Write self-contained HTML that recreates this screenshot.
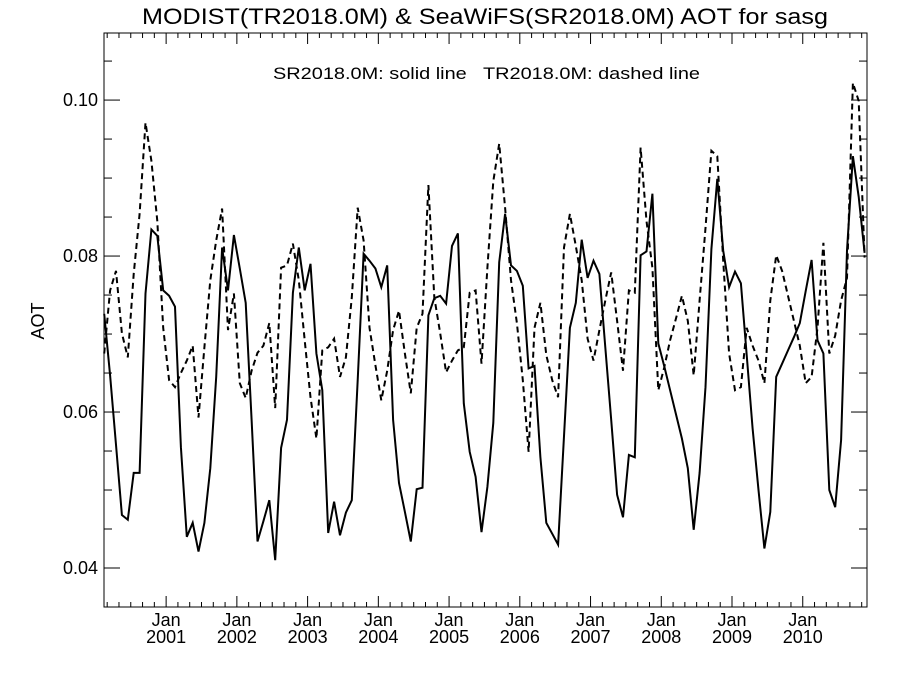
<!DOCTYPE html>
<html><head><meta charset="utf-8"><title>AOT chart</title>
<style>html,body{margin:0;padding:0;background:#fff}svg{display:block;font-family:"Liberation Sans",sans-serif}</style>
</head><body>
<svg id="chart" width="900" height="675" viewBox="0 0 900 675" xmlns="http://www.w3.org/2000/svg">
<rect x="0" y="0" width="900" height="675" fill="#fff"/>
<text x="485" y="24" font-size="22" text-anchor="middle" textLength="686" lengthAdjust="spacingAndGlyphs">MODIST(TR2018.0M) &amp; SeaWiFS(SR2018.0M)  AOT for sasg</text>
<text x="273" y="79" font-size="17" textLength="427" lengthAdjust="spacingAndGlyphs" xml:space="preserve">SR2018.0M: solid line   TR2018.0M: dashed line</text>
<text x="0" y="0" font-size="18" text-anchor="middle" transform="translate(44,321) rotate(-90)">AOT</text>
<g id="axes"></g>
<g id="series"></g>
</svg>
<script>
// month index 0 = Feb 2000 (mid-month), values in AOT
const solidValues = [72.6,64.7,55.8,46.8,46.2,52.2,52.2,75.2,83.4,82.6,75.6,74.9,73.5,55.5,44.0,45.8,42.1,45.8,52.8,64.5,81.1,75.6,82.7,78.4,74.0,59.0,43.4,46.0,48.7,41.0,55.4,59.0,75.3,81.1,75.6,79.0,67.5,62.8,44.5,48.5,44.2,47.1,48.7,64.1,80.3,79.4,78.4,76.0,78.8,59.0,50.9,47.2,43.4,50.1,50.3,72.4,74.6,74.9,73.9,81.3,82.9,61.1,54.9,51.7,44.6,50.4,58.6,79.2,85.4,78.8,78.1,76.2,65.6,65.9,54.2,45.8,44.4,43.0,56.9,70.8,74.0,82.1,77.2,79.4,77.7,68.3,59.0,49.4,46.5,54.5,54.2,80.1,80.6,88.0,68.8,65.9,62.8,59.7,56.6,52.8,44.9,52.2,63.2,80.9,89.9,80.7,76.0,78.0,76.5,67.3,57.9,50.0,42.5,47.2,64.5,66.2,67.9,69.6,71.4,75.5,79.5,69.2,67.5,50.0,47.8,56.4,80.7,92.8,87.6,80.4].map(v=>v/1000);
const dashedValues = [67.5,75.6,78.1,70.1,67.0,77.7,85.4,97.1,92.2,84.5,70.8,64.1,63.2,65.0,66.6,68.5,59.3,68.3,76.9,82.0,86.1,70.5,75.2,63.7,61.8,65.3,67.6,68.5,71.4,60.5,78.5,78.8,81.6,76.9,69.2,61.9,56.6,67.9,68.3,69.4,64.5,67.0,74.7,86.2,82.0,70.8,66.0,61.5,65.3,70.5,73.0,67.5,62.4,70.8,72.6,89.1,74.7,70.1,65.1,66.6,67.9,68.3,75.3,75.6,66.2,78.5,89.6,94.4,86.2,76.9,71.4,64.1,54.9,70.8,74.0,67.3,64.1,61.9,81.1,85.4,81.3,76.9,69.4,66.6,70.5,74.3,77.9,71.7,65.3,75.6,75.3,93.9,84.5,78.5,62.8,65.7,69.2,72.0,74.9,71.7,64.7,74.3,83.6,93.5,92.8,79.4,67.5,62.8,63.2,70.8,68.5,66.6,63.7,74.3,80.1,78.1,74.9,71.7,68.5,63.7,64.5,70.8,81.7,67.5,69.8,74.3,77.2,102.2,99.9,79.8].map(v=>v/1000);
const yTickValues = [0.04,0.06,0.08,0.10];
const yTickLabels = ["0.04","0.06","0.08","0.10"];
const xTickYears = ["2001","2002","2003","2004","2005","2006","2007","2008","2009","2010"];

const L=104,R=867,T=33,B=607;
const X0=-0.04, X1=129.4;     // month-index domain
const Y0=0.0350, Y1=0.1086;
function xs(i){return L+(i-X0)/(X1-X0)*(R-L);}
function ys(v){return B-(v-Y0)/(Y1-Y0)*(B-T);}
const NS="http://www.w3.org/2000/svg";
function mk(tag,attrs,parent){const e=document.createElementNS(NS,tag);for(const k in attrs)e.setAttribute(k,attrs[k]);parent.appendChild(e);return e;}
const axes=document.getElementById('axes');
const frame=mk('rect',{x:L,y:T,width:R-L,height:B-T,fill:'none',stroke:'#000','stroke-width':1},axes);


// y ticks
for(let v=0.035;v<=0.1086;v+=0.005){
  const vv=Math.round(v*1000)/1000;const y=ys(vv);
  const major=Math.abs(vv*100-Math.round(vv*100))<1e-6&&Math.round(vv*100)%2===0;
  const len=major?16:8;
  const t1=mk('line',{x1:L,x2:L+len,y1:y,y2:y,stroke:'#000'},axes);
  
  
  const t2=mk('line',{x1:R,x2:R-len,y1:y,y2:y,stroke:'#000'},axes);
  
  
}
yTickValues.forEach((v,i)=>{
  const t=mk('text',{x:98,y:ys(v)+6,'font-size':18,'text-anchor':'end'},axes);
  t.textContent=yTickLabels[i];
  
  
});
// x ticks: Jan 2001 at month index 10.5 (boundary), every 2 months minor
for(let m=-10;m<=130;m+=2){
  const idx=m+10.5; if(idx<X0||idx>X1)continue;
  const x=xs(idx);const major=((m%12)+12)%12===0;const len=major?11:5;
  const a=mk('line',{x1:x,x2:x,y1:B,y2:B-len,stroke:'#000'},axes);
  
  
  const b=mk('line',{x1:x,x2:x,y1:T,y2:T+len,stroke:'#000'},axes);
  
  
}
xTickYears.forEach((yr,i)=>{
  const x=xs(10.5+12*i);
  const t1=mk('text',{x:x,y:626,'font-size':18,'text-anchor':'middle'},axes);
  t1.textContent='Jan';
  
  
  const t2=mk('text',{x:x,y:643,'font-size':18,'text-anchor':'middle'},axes);
  t2.textContent=yr;
  
  
});
const series=document.getElementById('series');
function pts(arr){return arr.map((v,i)=>xs(i).toFixed(1)+','+ys(v).toFixed(1)).join(' ');}
const s=mk('polyline',{points:pts(solidValues),fill:'none',stroke:'#000','stroke-width':2,'stroke-linejoin':'miter'},series);


const d=mk('polyline',{points:pts(dashedValues),fill:'none',stroke:'#000','stroke-width':2,'stroke-dasharray':'6,4'},series);


</script>
</body></html>
